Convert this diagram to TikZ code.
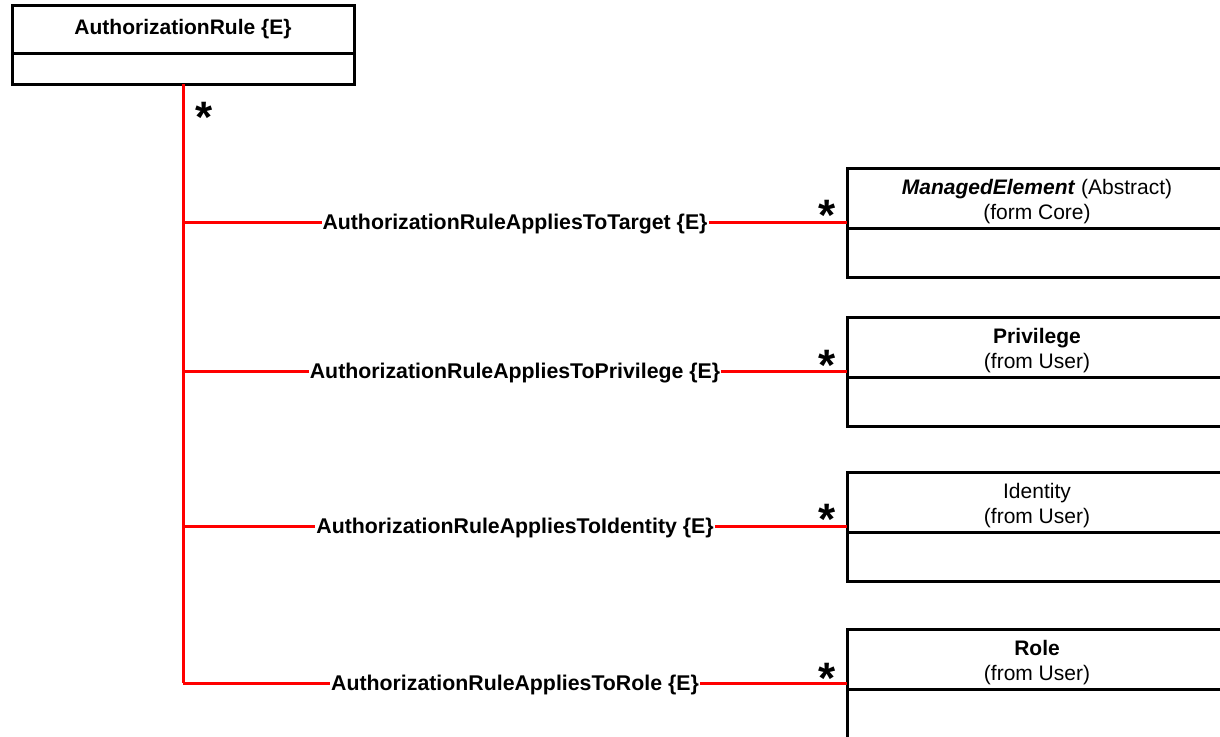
\documentclass[tikz,border=0pt]{standalone}
\usepackage{fontspec}
\setmainfont{Liberation Sans}
\newcommand{\tstrut}{\rule{0pt}{23pt}}
\begin{document}
\begin{tikzpicture}[x=1pt,y=-1pt,
  box/.style={draw=black, line width=3pt, inner sep=0pt, outer sep=0pt, align=center,
    font=\fontsize{21}{25}\selectfont},
  hdr/.style={box, minimum width=380pt, minimum height=60pt},
  bdy/.style={box, minimum width=380pt, minimum height=49pt},
  assoc/.style={draw=red, line width=3pt},
  lbl/.style={fill=white, inner sep=1pt, anchor=base, yshift=-7.5pt,
    font=\fontsize{21.3}{25}\selectfont\bfseries},
  mult/.style={inner sep=0pt, anchor=base, font=\fontsize{44}{44}\selectfont\bfseries}]
\useasboundingbox (0,0) rectangle (1220,736);
\clip (0,0) rectangle (1220,736);
\fill[white] (0,0) rectangle (1220,736);

% AuthorizationRule
\node[box, minimum width=342pt, minimum height=48pt, font=\fontsize{21}{25}\selectfont\bfseries] (ar) at (183,29) {AuthorizationRule \{E\}};
\node[box, minimum width=342pt, minimum height=31pt] (arb) at (183,68.5) {};

% right classes
\node[hdr] (me) at (1037,198) {\tstrut\textbf{\textit{ManagedElement}} (Abstract)\\(form Core)};
\node[bdy] (meb) at (1037,252.5) {};
\node[hdr] (pr) at (1037,347) {\tstrut\textbf{Privilege}\\(from User)};
\node[bdy] (prb) at (1037,401.5) {};
\node[hdr] (id) at (1037,502) {\tstrut Identity\\(from User)};
\node[bdy] (idb) at (1037,556.5) {};
\node[hdr] (ro) at (1037,659) {\tstrut\textbf{Role}\\(from User)};
\node[bdy] (rob) at (1037,713.5) {};

% connector end points
\coordinate (e1) at ([yshift=6pt]me.south west);
\coordinate (e2) at ([yshift=6pt]pr.south west);
\coordinate (e3) at ([yshift=6pt]id.south west);
\coordinate (e4) at ([yshift=6pt]ro.south west);

% trunk and branches
\draw[assoc] (arb.south) -- (arb.south |- e4);
\draw[assoc] (arb.south |- e1) -- node[lbl] {AuthorizationRuleAppliesToTarget \{E\}} (e1);
\draw[assoc] (arb.south |- e2) -- node[lbl] {AuthorizationRuleAppliesToPrivilege \{E\}} (e2);
\draw[assoc] (arb.south |- e3) -- node[lbl] {AuthorizationRuleAppliesToIdentity \{E\}} (e3);
\draw[assoc] (arb.south |- e4) -- node[lbl] {AuthorizationRuleAppliesToRole \{E\}} (e4);

% multiplicities
\node[mult] (m0) at (204,132) {*};
\node[mult] (m1) at (827,230) {*};
\node[mult] (m2) at (827,380) {*};
\node[mult] (m3) at (827,534) {*};
\node[mult] (m4) at (827,693) {*};
\end{tikzpicture}
\end{document}
